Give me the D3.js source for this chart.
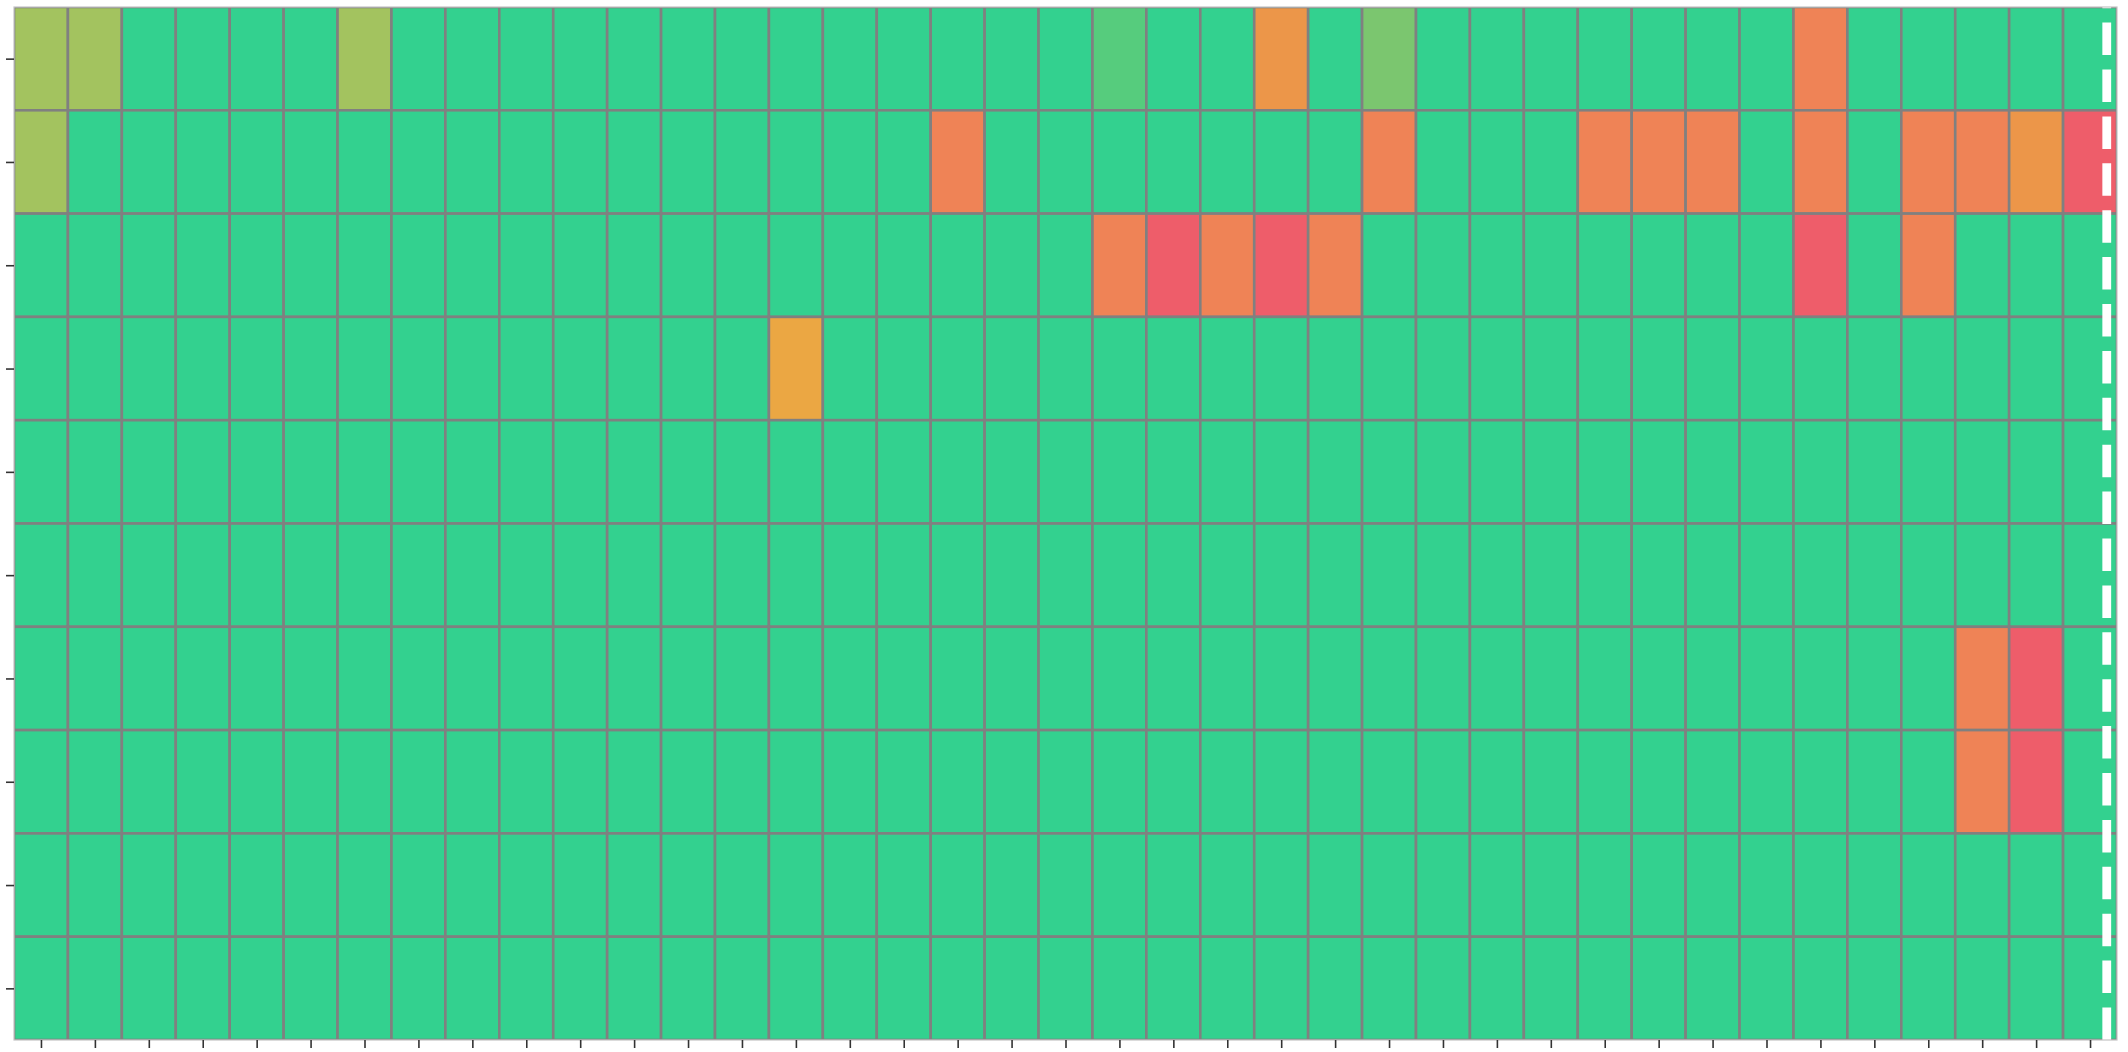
<!DOCTYPE html>
<html>
<head>
<meta charset="utf-8">
<script src="https://cdn.jsdelivr.net/npm/d3@7"></script>
<style>
  body { margin: 0; background: #fff; }
</style>
</head>
<body>
<svg id="svg1" width="2128" height="1052"></svg>
<script>

// one array per heatmap row, 39 columns each (0 = green, 1 = red)
var row0 = [0.3,0.3,0,0,0,0,0.3,0,0,0,0,0,0,0,0,0,0,0,0,0,0.1,0,0,0.65,0,0.2,0,0,0,0,0,0,0,0.75,0,0,0,0,0];
var row1 = [0.3,0,0,0,0,0,0,0,0,0,0,0,0,0,0,0,0,0.75,0,0,0,0,0,0,0,0.75,0,0,0,0.75,0.75,0.75,0,0.75,0,0.75,0.75,0.65,1];
var row2 = [0,0,0,0,0,0,0,0,0,0,0,0,0,0,0,0,0,0,0,0,0.75,1,0.75,1,0.75,0,0,0,0,0,0,0,0,1,0,0.75,0,0,0];
var row3 = [0,0,0,0,0,0,0,0,0,0,0,0,0,0,0.55,0,0,0,0,0,0,0,0,0,0,0,0,0,0,0,0,0,0,0,0,0,0,0,0];
var row4 = [0,0,0,0,0,0,0,0,0,0,0,0,0,0,0,0,0,0,0,0,0,0,0,0,0,0,0,0,0,0,0,0,0,0,0,0,0,0,0];
var row5 = [0,0,0,0,0,0,0,0,0,0,0,0,0,0,0,0,0,0,0,0,0,0,0,0,0,0,0,0,0,0,0,0,0,0,0,0,0,0,0];
var row6 = [0,0,0,0,0,0,0,0,0,0,0,0,0,0,0,0,0,0,0,0,0,0,0,0,0,0,0,0,0,0,0,0,0,0,0,0,0.75,1,0];
var row7 = [0,0,0,0,0,0,0,0,0,0,0,0,0,0,0,0,0,0,0,0,0,0,0,0,0,0,0,0,0,0,0,0,0,0,0,0,0.75,1,0];
var row8 = [0,0,0,0,0,0,0,0,0,0,0,0,0,0,0,0,0,0,0,0,0,0,0,0,0,0,0,0,0,0,0,0,0,0,0,0,0,0,0];
var row9 = [0,0,0,0,0,0,0,0,0,0,0,0,0,0,0,0,0,0,0,0,0,0,0,0,0,0,0,0,0,0,0,0,0,0,0,0,0,0,0];
var rows = [row0,row1,row2,row3,row4,row5,row6,row7,row8,row9];

var colorStops = [0, 0.1, 0.2, 0.3, 0.55, 0.65, 0.75, 1];
var colorRange = ["#33d18f","#56cc7d","#7bc66f","#a3c35f","#eba743","#ec9649","#ef8356","#ee5d6a"];

// position of the dashed marker, in column units
var markerCol = 38.81;

var svg = d3.select("#svg1"),
    plotLeft = 14, plotTop = 7, plotRight = 2117, plotBottom = 1040;

var nCols = row0.length, nRows = rows.length;

var xScale = d3.scaleLinear().domain([0, nCols]).range([plotLeft, plotRight]);
var yScale = d3.scaleLinear().domain([0, nRows]).range([plotTop, plotBottom]);
var color = d3.scaleLinear().domain(colorStops).range(colorRange);

var cells = [];
rows.forEach(function(r, i){
    r.forEach(function(v, j){ cells.push({row: i, col: j, value: v}); });
});

svg.append("clipPath").attr("id", "plotclip")
   .append("rect")
   .attr("x", plotLeft).attr("y", plotTop)
   .attr("width", plotRight - plotLeft).attr("height", plotBottom - plotTop);

var g = svg.append("g").attr("clip-path", "url(#plotclip)");

g.selectAll(".cell")
 .data(cells)
 .enter().append("rect")
 .attr("class", "cell")
 .attr("x", function(d) { return xScale(d.col); })
 .attr("y", function(d) { return yScale(d.row); })
 .attr("width", xScale(1) - xScale(0))
 .attr("height", yScale(1) - yScale(0))
 .style("fill", function(d) { return color(d.value); })
 .style("stroke", "#808080")
 .style("stroke-width", 2.6);

// dashed marker, drawn bottom-up so the dash pattern starts at the bottom
g.append("line")
 .attr("x1", xScale(markerCol)).attr("x2", xScale(markerCol))
 .attr("y1", plotBottom).attr("y2", plotTop)
 .style("stroke", "#ffffff")
 .style("stroke-width", 8.8)
 .style("stroke-dasharray", "32.5,14.4");

// spines
svg.append("rect")
   .attr("x", plotLeft).attr("y", plotTop)
   .attr("width", plotRight - plotLeft).attr("height", plotBottom - plotTop)
   .style("fill", "none")
   .style("stroke", "#c4c4c4")
   .style("stroke-width", 1.2);

// tick marks only, no labels
var xAxis = d3.axisBottom(xScale)
    .tickValues(d3.range(nCols).map(function(i){ return i + 0.5; }))
    .tickSize(8).tickFormat("");
var yAxis = d3.axisLeft(yScale)
    .tickValues(d3.range(nRows).map(function(i){ return i + 0.5; }))
    .tickSize(8).tickFormat("");

svg.append("g").attr("transform", "translate(0," + plotBottom + ")").call(xAxis);
svg.append("g").attr("transform", "translate(" + plotLeft + ",0)").call(yAxis);

svg.selectAll(".domain").remove();
svg.selectAll(".tick line").style("stroke", "#333333").style("stroke-width", 1.6);

</script>
</body>
</html>
